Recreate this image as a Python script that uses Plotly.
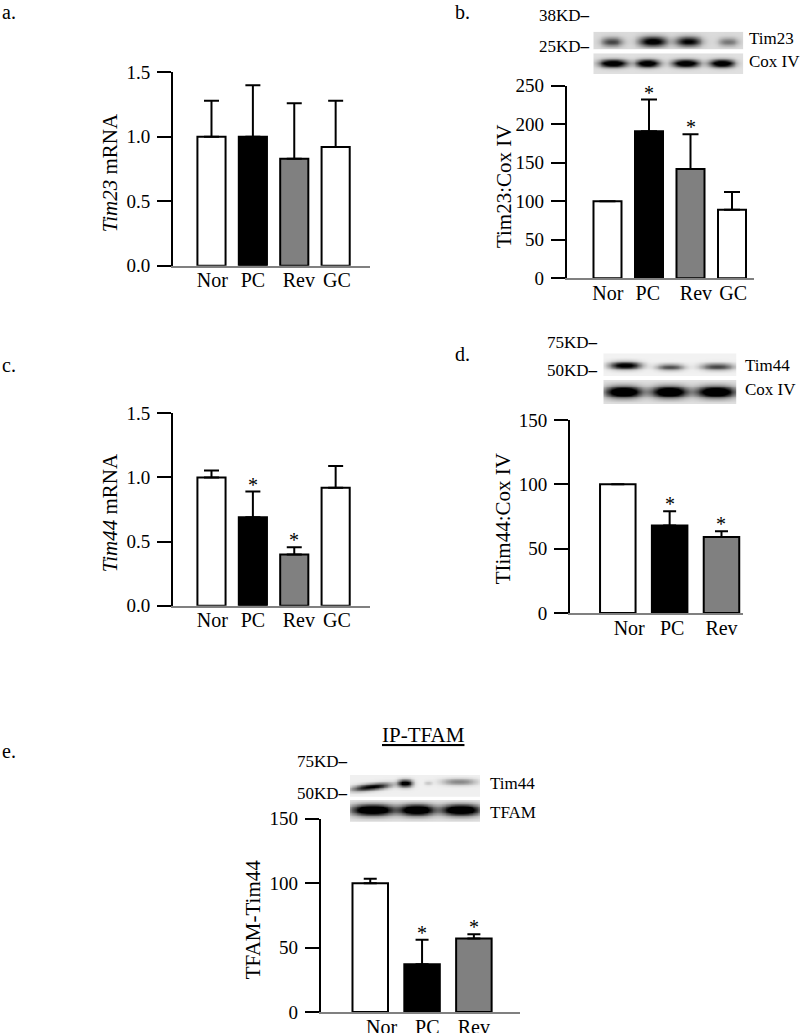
import numpy as np
import plotly.graph_objects as go

W, H = 800, 1033
FONT = "Liberation Serif, Times New Roman, serif"

# ---------------- data ----------------
cats4 = ["Nor", "PC", "Rev", "GC"]
cats3 = ["Nor", "PC", "Rev"]
colors4 = ["white", "black", "#808080", "white"]
colors3 = ["white", "black", "#808080"]

tim23_mrna = [1.0, 1.0, 0.83, 0.92]
tim23_mrna_err = [0.28, 0.40, 0.43, 0.36]
tim23_mrna_sig = [False, False, False, False]

tim23_cox = [100, 191, 142, 89]
tim23_cox_err = [0, 41, 45, 23]
tim23_cox_sig = [False, True, True, False]

tim44_mrna = [1.0, 0.69, 0.40, 0.92]
tim44_mrna_err = [0.055, 0.20, 0.055, 0.17]
tim44_mrna_sig = [False, True, True, False]

tim44_cox = [100, 68, 59]
tim44_cox_err = [0, 11, 4.5]
tim44_cox_sig = [False, True, True]

tfam_tim44 = [100, 37, 57]
tfam_tim44_err = [3.4, 19, 3.3]
tfam_tim44_sig = [False, True, True]

mrna_ticks = [0, 0.5, 1.0, 1.5]
mrna_ticktext = ["0.0", "0.5", "1.0", "1.5"]
ticks250 = [0, 50, 100, 150, 200, 250]
ticks150 = [0, 50, 100, 150]


def X(px):
    return px / W


def Y(py):
    return 1 - py / H


panels = [
    dict(cats=cats4, vals=tim23_mrna, errs=tim23_mrna_err, sig=tim23_mrna_sig, colors=colors4,
         xpx=(173, 370), ypx=(72.3, 265.7), xr=(-0.93, 3.83), yr=(0, 1.5),
         tv=mrna_ticks, tt=mrna_ticktext, bw=0.68, cap=7.5,
         shift=[0.02, 0.0, 0.11, 0.03],
         title="<i>Tim23</i> mRNA", tpos=(110, 173.3)),
    dict(cats=cats4, vals=tim23_cox, errs=tim23_cox_err, sig=tim23_cox_sig, colors=colors4,
         xpx=(566.7, 754), ypx=(85.7, 278.3), xr=(-0.983, 3.53), yr=(0, 250),
         tv=ticks250, tt=[str(v) for v in ticks250], bw=0.675, cap=8,
         shift=[0.01, -0.03, 0.13, 0.03],
         title="Tim23:Cox IV", tpos=(503.3, 185.8)),
    dict(cats=cats4, vals=tim44_mrna, errs=tim44_mrna_err, sig=tim44_mrna_sig, colors=colors4,
         xpx=(173, 370), ypx=(413.3, 605.7), xr=(-0.93, 3.83), yr=(0, 1.5),
         tv=mrna_ticks, tt=mrna_ticktext, bw=0.68, cap=7.5,
         shift=[0.02, 0.0, 0.11, 0.03],
         title="<i>Tim44</i> mRNA", tpos=(110, 513.3)),
    dict(cats=cats3, vals=tim44_cox, errs=tim44_cox_err, sig=tim44_cox_sig, colors=colors3,
         xpx=(570, 743), ypx=(420, 613), xr=(-0.922, 2.415), yr=(0, 150),
         tv=ticks150, tt=[str(v) for v in ticks150], bw=0.685, cap=6.5,
         shift=[0.22, 0.05, 0.0],
         title="TIim44:Cox IV", tpos=(503.3, 519)),
    dict(cats=cats3, vals=tfam_tim44, errs=tfam_tim44_err, sig=tfam_tim44_sig, colors=colors3,
         xpx=(320.7, 520), ypx=(818.7, 1012), xr=(-0.956, 2.89), yr=(0, 150),
         tv=ticks150, tt=[str(v) for v in ticks150], bw=0.685, cap=6.5,
         shift=[0.22, 0.1, 0.0],
         title="TFAM-Tim44", tpos=(253.3, 919)),
]

# blot strips: box in px, background level, bands
# (x centre frac, half-width frac, intensity, y centre frac, half-height frac, tilt)
blots = [
    dict(xpx=(593.3, 743.3), ypx=(31.7, 49.3), bg=0.14,
         bands=[(0.123, 0.07, 0.6, 0.43, 0.25, 0), (0.395, 0.09, 1.0, 0.45, 0.28, 0),
                (0.632, 0.083, 0.9, 0.45, 0.27, 0), (0.899, 0.065, 0.4, 0.43, 0.23, 0)]),
    dict(xpx=(593.3, 743.3), ypx=(53.3, 74), bg=0.12,
         bands=[(0.131, 0.09, 1.2, 0.52, 0.18, 0), (0.361, 0.076, 1.2, 0.52, 0.18, 0),
                (0.615, 0.086, 1.2, 0.52, 0.18, 0), (0.855, 0.08, 1.2, 0.52, 0.18, 0)]),
    dict(xpx=(603.3, 736.7), ypx=(353.3, 376), bg=0.05,
         bands=[(0.163, 0.115, 1.1, 0.47, 0.16, 0), (0.5, 0.1, 0.65, 0.40, 0.14, 0),
                (0.853, 0.12, 0.7, 0.42, 0.15, 0)]),
    dict(xpx=(603.3, 736.7), ypx=(380, 404), bg=0.12,
         bands=[(0.15, 0.135, 1.3, 0.51, 0.23, 0), (0.494, 0.131, 1.3, 0.51, 0.23, 0),
                (0.843, 0.142, 1.3, 0.51, 0.23, 0)]),
    dict(xpx=(350, 480), ypx=(775, 796.7), bg=0.06,
         bands=[(0.162, 0.146, 0.95, 0.45, 0.15, 0.63), (0.423, 0.055, 1.05, 0.62, 0.17, 0),
                (0.6, 0.03, 0.15, 0.63, 0.1, 0), (0.838, 0.13, 0.42, 0.69, 0.15, 0)]),
    dict(xpx=(350, 480), ypx=(800, 821.7), bg=0.12,
         bands=[(0.173, 0.16, 1.3, 0.54, 0.25, 0), (0.513, 0.13, 1.3, 0.54, 0.25, 0),
                (0.852, 0.146, 1.3, 0.54, 0.25, 0)]),
]

fig = go.Figure()
layout = dict(width=W, height=H, margin=dict(l=0, r=0, t=0, b=0, autoexpand=False),
              paper_bgcolor="white", plot_bgcolor="rgba(0,0,0,0)",
              showlegend=False, font=dict(family=FONT, color="black"))
annotations = []

for i, p in enumerate(panels):
    k = i + 1
    xa = "x" if k == 1 else f"x{k}"
    ya = "y" if k == 1 else f"y{k}"
    n = len(p["cats"])
    pos = list(range(n))
    fig.add_trace(go.Bar(
        x=pos, y=p["vals"], width=p["bw"], xaxis=xa, yaxis=ya,
        marker=dict(color=p["colors"], line=dict(color="black", width=2)),
        error_y=dict(type="data", array=p["errs"], arrayminus=[0] * n, symmetric=False,
                     color="black", thickness=2, width=p["cap"]),
        hoverinfo="skip"))
    layout[f"xaxis{'' if k == 1 else k}"] = dict(
        domain=[X(p["xpx"][0]), X(p["xpx"][1])], range=list(p["xr"]), anchor=ya,
        showline=True, linecolor="#808080", linewidth=1.5, ticks="",
        tickvals=[j + s for j, s in zip(pos, p["shift"])], ticktext=p["cats"],
        ticklabelstandoff=-4,
        tickfont=dict(size=20, family=FONT), showgrid=False, zeroline=False, fixedrange=True)
    layout[f"yaxis{'' if k == 1 else k}"] = dict(
        domain=[Y(p["ypx"][1]), Y(p["ypx"][0])], range=list(p["yr"]), anchor=xa,
        showline=True, linecolor="black", linewidth=2, ticks="outside", ticklen=14,
        tickwidth=2, tickcolor="black", tickvals=p["tv"], ticktext=p["tt"],
        ticklabelstandoff=3,
        tickfont=dict(size=19, family=FONT), showgrid=False, zeroline=False, fixedrange=True)
    annotations.append(dict(x=X(p["tpos"][0]), y=Y(p["tpos"][1]), xref="paper", yref="paper",
                            text=p["title"], textangle=-90, showarrow=False,
                            xanchor="center", yanchor="middle", font=dict(size=21, family=FONT)))
    for j in range(n):
        if p["sig"][j]:
            annotations.append(dict(x=j, y=p["vals"][j] + p["errs"][j], xref=xa, yref=ya,
                                    text="*", showarrow=False, yanchor="bottom", yshift=-6,
                                    font=dict(size=20, family=FONT)))

# blots rendered as greyscale heatmaps
nx, ny = 160, 30
gx = np.linspace(0, 1, nx)
gy = np.linspace(0, 1, ny)
GX, GY = np.meshgrid(gx, gy)
for b_i, b in enumerate(blots):
    k = len(panels) + b_i + 1
    z = np.full_like(GX, b["bg"])
    for (cx, hx, inten, cy, hy, tilt) in b["bands"]:
        yc = cy + tilt * (GX - cx)
        z = z + inten * np.exp(-np.abs((GX - cx) / hx) ** 2.5) * np.exp(-((GY - yc) / hy) ** 2)
    z = np.clip(z, 0, 1)
    fig.add_trace(go.Heatmap(x=gx, y=gy, z=z, xaxis=f"x{k}", yaxis=f"y{k}",
                             colorscale=[[0, "#ffffff"], [1, "#000000"]], zmin=0, zmax=1,
                             showscale=False, zsmooth="best", hoverinfo="skip"))
    layout[f"xaxis{k}"] = dict(domain=[X(b["xpx"][0]), X(b["xpx"][1])], range=[0, 1],
                               anchor=f"y{k}", visible=False, fixedrange=True)
    layout[f"yaxis{k}"] = dict(domain=[Y(b["ypx"][1]), Y(b["ypx"][0])], range=[0, 1],
                               anchor=f"x{k}", visible=False, fixedrange=True)

# text labels
texts = [
    ("a.", 0, 11.7, "left", 20), ("b.", 453.3, 11.7, "left", 20),
    ("c.", 0, 365, "left", 20), ("d.", 453.3, 354, "left", 20), ("e.", 0, 751, "left", 20),
    ("38KD<b>–</b>", 536.7, 15.8, "left", 17), ("25KD<b>–</b>", 536.7, 46.7, "left", 17),
    ("Tim23", 746.7, 38.3, "left", 17), ("Cox IV", 746.7, 61.7, "left", 17),
    ("75KD<b>–</b>", 545, 342.5, "left", 17), ("50KD<b>–</b>", 545, 370.8, "left", 17),
    ("Tim44", 743.3, 365, "left", 17), ("Cox IV", 743.3, 389, "left", 17),
    ("<u>IP-TFAM</u>", 423.3, 735, "center", 21),
    ("75KD<b>–</b>", 295, 761.7, "left", 17), ("50KD<b>–</b>", 295, 793, "left", 17),
    ("Tim44", 488.3, 783, "left", 17), ("TFAM", 488.3, 812, "left", 17),
]
for t, x, y, anc, sz in texts:
    annotations.append(dict(x=X(x), y=Y(y), xref="paper", yref="paper", text=t,
                            showarrow=False, xanchor=anc, yanchor="middle",
                            font=dict(size=sz, family=FONT)))

layout["annotations"] = annotations
fig.update_layout(**layout)
fig.write_html("out.html", config={"responsive": False, "displayModeBar": False},
               post_script="document.body.style.margin='0px';document.body.style.overflow='hidden';")
